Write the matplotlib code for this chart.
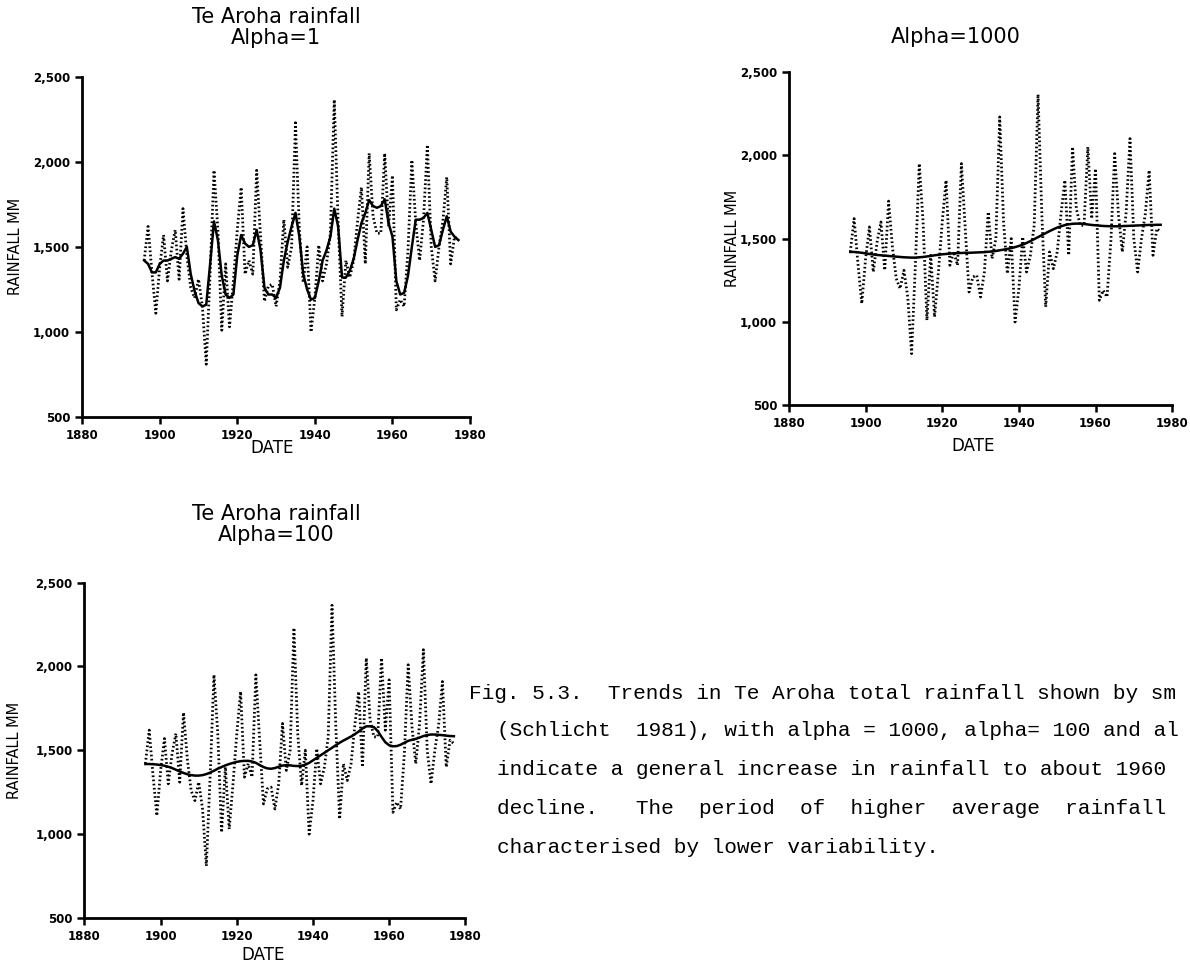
import matplotlib
matplotlib.use("Agg")
import matplotlib.pyplot as plt
from matplotlib.ticker import FuncFormatter

years = list(range(1896, 1978))

rainfall = [1420, 1620, 1350, 1110, 1380, 1570, 1300, 1480, 1600, 1310,
            1725, 1450, 1260, 1200, 1310, 1150, 810, 1350, 1950, 1600,
            1010, 1400, 1030, 1300, 1600, 1850, 1340, 1420, 1340, 1950,
            1560, 1180, 1270, 1280, 1150, 1300, 1660, 1380, 1500, 2230,
            1600, 1290, 1500, 1000, 1200, 1510, 1300, 1400, 1580, 2365,
            1640, 1090, 1420, 1320, 1420, 1650, 1850, 1400, 2050, 1680,
            1580, 1580, 2050, 1620, 1920, 1130, 1190, 1150, 1480, 2010,
            1640, 1420, 1660, 2100, 1500, 1300, 1500, 1650, 1910, 1400,
            1560, 1540]

smooth_alpha1 = [1420, 1400, 1350, 1350, 1400, 1420, 1420, 1430, 1440, 1430,
                 1460, 1500, 1340, 1240, 1170, 1150, 1160, 1400, 1650, 1540,
                 1330, 1220, 1200, 1220, 1450, 1570, 1520, 1500, 1510, 1600,
                 1480, 1260, 1220, 1220, 1200, 1260, 1420, 1530, 1620, 1700,
                 1560, 1340, 1250, 1190, 1200, 1300, 1420, 1480, 1560, 1725,
                 1620, 1320, 1320, 1360, 1430, 1540, 1640, 1700, 1775, 1740,
                 1730, 1740, 1780, 1640, 1560, 1300, 1220, 1230, 1330, 1500,
                 1660, 1660, 1670, 1700, 1600, 1500, 1510, 1600, 1680, 1590,
                 1560, 1540]

smooth_alpha1000 = [1420, 1420, 1418, 1415, 1412, 1408, 1405, 1402, 1400, 1398,
                    1396, 1394, 1392, 1390, 1388, 1387, 1386, 1386, 1388, 1390,
                    1393, 1396, 1400, 1403, 1406, 1408, 1410, 1412, 1413, 1414,
                    1415, 1415, 1416, 1417, 1418, 1419, 1421, 1423, 1426, 1430,
                    1434, 1438, 1443, 1449, 1456, 1464, 1474, 1485, 1497, 1509,
                    1521, 1533, 1545, 1556, 1566, 1574, 1581, 1586, 1589, 1590,
                    1590, 1588, 1585, 1582, 1580, 1578, 1576, 1575, 1574, 1574,
                    1574, 1575, 1576, 1577, 1578, 1579, 1580, 1581, 1582, 1582,
                    1583, 1583]

smooth_alpha100 = [1418, 1418, 1417, 1415, 1412, 1408, 1402, 1394, 1384, 1374,
                   1365, 1357, 1352, 1349, 1349, 1352, 1358, 1367, 1378, 1390,
                   1400, 1410, 1418, 1425, 1431, 1435, 1437, 1437, 1433, 1425,
                   1412, 1400, 1392, 1390, 1394, 1402, 1409, 1411, 1410, 1407,
                   1406, 1408, 1414, 1425, 1440, 1455, 1470, 1485, 1500, 1515,
                   1530, 1545, 1558, 1570, 1582, 1596, 1612, 1630, 1643, 1643,
                   1638, 1615, 1580, 1548, 1530, 1524, 1525, 1533, 1545, 1556,
                   1563, 1568, 1576, 1585, 1591, 1594, 1594, 1592, 1590, 1587,
                   1585, 1584]

y_ticks = [500, 1000, 1500, 2000, 2500]
x_ticks = [1880, 1900, 1920, 1940, 1960, 1980]

fig = plt.figure(figsize=(11.9, 9.72), dpi=100)
fig.patch.set_facecolor("white")

fmt = FuncFormatter(lambda v, p: f"{int(v):,}")


def panel(rect, smooth, title, title_xy, ylab_x, xlab_xy):
    ax = fig.add_axes(rect)
    ax.plot(years, rainfall, color="black", lw=2.0, linestyle=(0, (0.6, 0.9)))
    ax.plot(years, smooth, color="black", lw=1.8, solid_joinstyle="round")
    ax.set_xlim(1880, 1980)
    ax.set_ylim(500, 2500)
    ax.set_xticks(x_ticks)
    ax.set_yticks(y_ticks)
    ax.yaxis.set_major_formatter(fmt)
    for s in ("top", "right"):
        ax.spines[s].set_visible(False)
    for s in ("left", "bottom"):
        ax.spines[s].set_linewidth(2.0)
    ax.tick_params(direction="out", length=5, width=1.8, labelsize=8.5)
    for lab in ax.get_xticklabels() + ax.get_yticklabels():
        lab.set_fontweight("bold")
    ax.set_ylabel("RAINFALL MM", fontsize=10.5)
    ax.yaxis.set_label_coords(ylab_x, 0.5)
    ax.set_xlabel("DATE", fontsize=12)
    ax.xaxis.set_label_coords(xlab_xy[0], xlab_xy[1])
    fig.text(title_xy[0], title_xy[1], title, ha="center", va="top",
             fontsize=15, linespacing=1.05)
    return ax


panel([0.069, 0.571, 0.326, 0.350], smooth_alpha1,
      "Te Aroha rainfall\nAlpha=1", (0.232, 0.993), -0.152, (0.49, -0.065))
panel([0.663, 0.583, 0.322, 0.343], smooth_alpha1000,
      "Alpha=1000", (0.803, 0.972), -0.128, (0.48, -0.095))
panel([0.071, 0.0556, 0.320, 0.345], smooth_alpha100,
      "Te Aroha rainfall\nAlpha=100", (0.232, 0.481), -0.163, (0.47, -0.085))

caption_lines = [
    ("Fig. 5.3.  Trends in Te Aroha total rainfall shown by sm", 0.394, 0.287),
    ("(Schlicht  1981), with alpha = 1000, alpha= 100 and al", 0.418, 0.248),
    ("indicate a general increase in rainfall to about 1960", 0.418, 0.208),
    ("decline.   The  period  of  higher  average  rainfall", 0.418, 0.168),
    ("characterised by lower variability.", 0.418, 0.128),
]
for txt, x, y in caption_lines:
    fig.text(x, y, txt, family="Liberation Mono", fontsize=15.2,
             ha="left", va="center")

fig.savefig("out.png", dpi=100, facecolor="white")
